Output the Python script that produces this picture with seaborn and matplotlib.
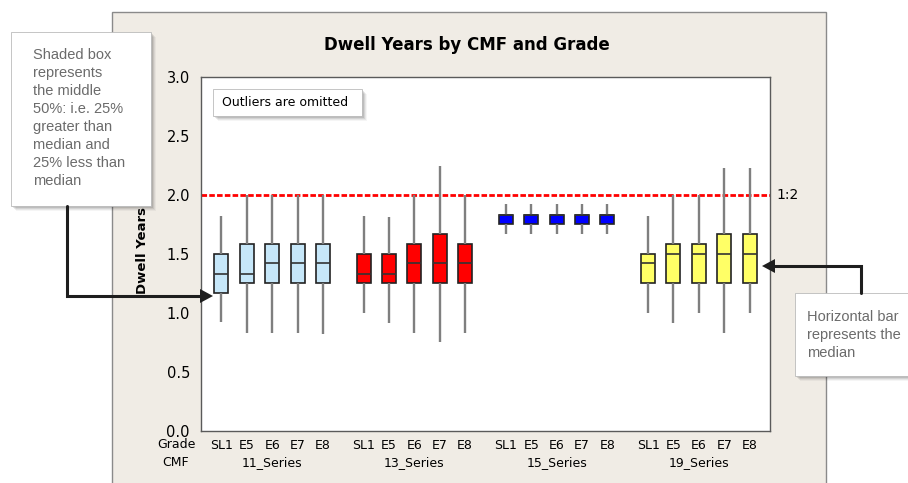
import numpy as np
import pandas as pd
import matplotlib
matplotlib.use("Agg")
import matplotlib.pyplot as plt
import matplotlib.transforms as mtransforms
from matplotlib.patches import Rectangle, Polygon
from matplotlib.lines import Line2D
import seaborn as sns

# data
series = ['11_Series', '13_Series', '15_Series', '19_Series']
grades = ['SL1', 'E5', 'E6', 'E7', 'E8']
# each box: low whisker, Q1, median, Q3, high whisker
s11 = [[0.92, 1.17, 1.33, 1.50, 1.82],
       [0.83, 1.25, 1.33, 1.58, 2.00],
       [0.83, 1.25, 1.42, 1.58, 2.00],
       [0.83, 1.25, 1.42, 1.58, 2.00],
       [0.82, 1.25, 1.42, 1.58, 2.00]]
s13 = [[1.00, 1.25, 1.33, 1.50, 1.82],
       [0.91, 1.25, 1.33, 1.50, 1.81],
       [0.83, 1.25, 1.42, 1.58, 2.00],
       [0.75, 1.25, 1.42, 1.67, 2.24],
       [0.83, 1.25, 1.42, 1.58, 2.00]]
s15 = [[1.67, 1.75, 1.83, 1.83, 1.92],
       [1.67, 1.75, 1.83, 1.83, 1.92],
       [1.67, 1.75, 1.83, 1.83, 1.92],
       [1.67, 1.75, 1.83, 1.83, 1.92],
       [1.67, 1.75, 1.83, 1.83, 1.92]]
s19 = [[1.00, 1.25, 1.42, 1.50, 1.82],
       [0.91, 1.25, 1.50, 1.58, 2.00],
       [1.00, 1.25, 1.50, 1.58, 2.00],
       [0.83, 1.25, 1.50, 1.67, 2.23],
       [1.00, 1.25, 1.50, 1.67, 2.23]]
box_colors = ['#C6E7F9', '#FF0000', '#0000FF', '#FFFF66']
ref_line = 2.0
group_gap = 5.6

# long table: five values per box give exactly those quartiles with whis=(0, 100)
rows = []
for g, (name, boxes) in enumerate(zip(series, [s11, s13, s15, s19])):
    for i, vals in enumerate(boxes):
        for v in vals:
            rows.append({'series': name, 'grade': grades[i], 'pos': g * group_gap + i, 'val': v})
df = pd.DataFrame(rows)

W, H = 908, 483
def fx(x): return x / W
def fy(y): return 1 - y / H

sns.set_style('white')
plt.rcParams['font.family'] = ['DejaVu Sans']
plt.rcParams['text.color'] = 'black'
plt.rcParams['xtick.labelcolor'] = 'black'
plt.rcParams['ytick.labelcolor'] = 'black'
fig = plt.figure(figsize=(W / 100, H / 100), dpi=100)
fig.patch.set_facecolor('white')

# beige chart panel
fig.patches.append(Rectangle((fx(112), -0.05), fx(826) - fx(112), fy(12) + 0.05,
                             transform=fig.transFigure, facecolor='#F0ECE5',
                             edgecolor='#8A8A8A', lw=1, zorder=-5))

ax = fig.add_axes([fx(201), fy(430.7), fx(770) - fx(201), fy(76.7) - fy(430.7)])
ax.set_facecolor('white')

sns.boxplot(data=df, x='pos', y='val', hue='series', palette=box_colors,
            native_scale=True, dodge=False, width=0.55, whis=(0, 100),
            showcaps=False, fliersize=0, saturation=1, linewidth=1.2,
            linecolor='#222222', legend=False, ax=ax,
            whiskerprops=dict(color='#7F7F7F', linewidth=1.7),
            medianprops=dict(color='#333333', linewidth=1.2))

ax.axhline(ref_line, color='#FF0000', lw=2.0, ls=(0, (2.0, 0.8)), zorder=0.5)
ax.text(1.012, ref_line, '1:2', transform=ax.get_yaxis_transform(),
        ha='left', va='center', fontsize=10)

positions = [g * group_gap + i for g in range(len(series)) for i in range(len(grades))]
ax.set_xlim(-0.8, (len(series) - 1) * group_gap + 4.8)
ax.set_ylim(0, 3.0)
ax.set_xticks(positions, grades * len(series), fontsize=9)
ax.set_yticks([0, 0.5, 1.0, 1.5, 2.0, 2.5, 3.0], ['0.0', '0.5', '1.0', '1.5', '2.0', '2.5', '3.0'], fontsize=10.5)
ax.tick_params(axis='x', length=4, width=1, color='#555555', labelcolor='black', pad=2)
ax.tick_params(axis='y', length=6, width=1, color='#555555', labelcolor='black', pad=2)
for sp in ax.spines.values():
    sp.set_visible(True)
    sp.set_color('#5A5A5A')
    sp.set_linewidth(1)
ax.set_xlabel('')
ax.set_ylabel('')

# group labels and row captions under the ticks
blend = mtransforms.blended_transform_factory(ax.transData, fig.transFigure)
for g, name in enumerate(series):
    ax.text(g * group_gap + 2, fy(463), name, transform=blend, ha='center', va='center', fontsize=9)
fig.text(fx(176), fy(445), 'Grade', ha='center', va='center', fontsize=9)
fig.text(fx(176), fy(463), 'CMF', ha='center', va='center', fontsize=9)

fig.text(fx(467), fy(45), 'Dwell Years by CMF and Grade', ha='center', va='center',
         fontsize=12, fontweight='bold')
fig.text(fx(142), fy(250), 'Dwell Years', rotation=90, ha='center', va='center',
         fontsize=9.5, fontweight='bold')

def shadow_box(x0, y0, x1, y1, z):
    for k, a in zip([5, 4, 3, 2, 1], [0.04, 0.06, 0.08, 0.10, 0.12]):
        fig.patches.append(Rectangle((fx(x0 + k), fy(y1 + k)), fx(x1) - fx(x0), fy(y0) - fy(y1),
                                     transform=fig.transFigure, facecolor='black',
                                     edgecolor='none', alpha=a, zorder=z))
    fig.patches.append(Rectangle((fx(x0), fy(y1)), fx(x1) - fx(x0), fy(y0) - fy(y1),
                                 transform=fig.transFigure, facecolor='white',
                                 edgecolor='#BBBBBB', lw=0.6, zorder=z + 0.1))

# "Outliers are omitted" note
shadow_box(213, 89, 362, 116, 6)
fig.text(fx(222), fy(103), 'Outliers are omitted', ha='left', va='center',
         fontsize=9, zorder=7)

# left callout
shadow_box(11, 32, 151, 206, 6)
fig.text(fx(33), fy(48), 'Shaded box\nrepresents\nthe middle\n50%: i.e. 25%\ngreater than\nmedian and\n25% less than\nmedian',
         ha='left', va='top', fontsize=10.5, color='#6B6B6B', linespacing=1.36,
         family=['Liberation Sans', 'DejaVu Sans'], zorder=7)

# right callout
shadow_box(795, 293, 915, 376, 6)
fig.text(fx(807), fy(310), 'Horizontal bar\nrepresents the\nmedian',
         ha='left', va='top', fontsize=10.5, color='#6B6B6B', linespacing=1.36,
         family=['Liberation Sans', 'DejaVu Sans'], zorder=7)

def elbow_arrow(pts, tip, direction):
    xs = [fx(p[0]) for p in pts]
    ys = [fy(p[1]) for p in pts]
    fig.lines.append(Line2D(xs, ys, transform=fig.transFigure, color='#1E1E1E',
                            lw=2.2, zorder=8, solid_joinstyle='miter'))
    tx, ty = tip
    if direction == 'right':
        tri = [(tx, ty), (tx - 13, ty - 7), (tx - 13, ty + 7)]
    else:
        tri = [(tx, ty), (tx + 13, ty - 7), (tx + 13, ty + 7)]
    fig.patches.append(Polygon([(fx(a), fy(b)) for a, b in tri], closed=True,
                               transform=fig.transFigure, facecolor='#1E1E1E',
                               edgecolor='none', zorder=8))

elbow_arrow([(67, 206), (67, 296), (202, 296)], (213, 296), 'right')
elbow_arrow([(861, 293), (861, 266), (773, 266)], (762, 266), 'left')

fig.savefig('out.png', dpi=100)
